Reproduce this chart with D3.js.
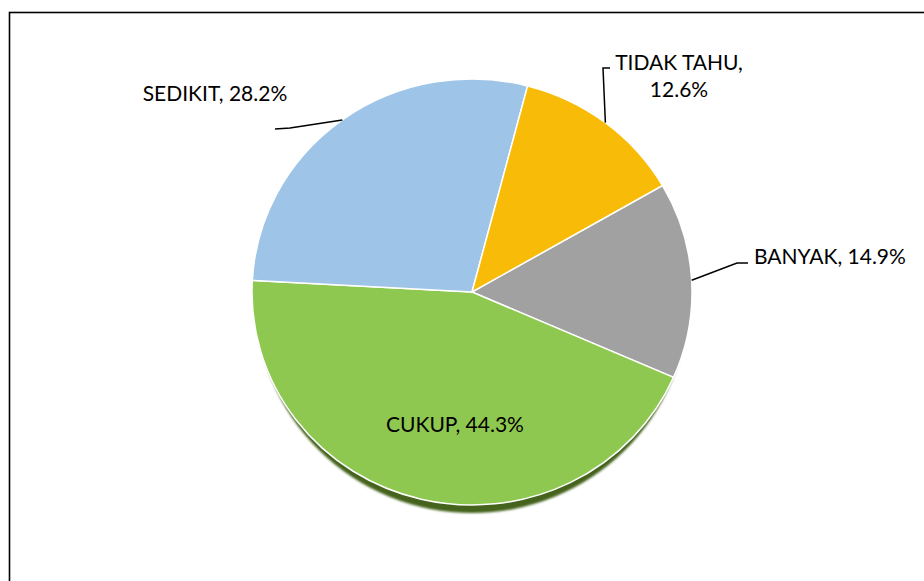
<!DOCTYPE html>
<html>
<head>
<meta charset="utf-8">
<script src="https://cdn.jsdelivr.net/npm/d3@7"></script>
<style>
  html, body { margin: 0; padding: 0; background: #fff; }
  svg text { font-family: Lato, "Open Sans", sans-serif; fill: #000; }
</style>
</head>
<body>
<div id="chart"></div>
<script>
// data
var categories = ['BANYAK', 'CUKUP', 'SEDIKIT', 'TIDAK TAHU'];
var values = [14.9, 44.3, 28.2, 12.6];
var colors = ['#9e9e9e', '#8cc44e', '#9bc1e3', '#f3b707'];

var width = 924, height = 581;
var cx = 472, cy = 292, rx = 220, ry = 213;

// label placement (leader end point + text anchor)
var labelLayout = {
  'BANYAK': { elbow: [737, 263], end: [748, 263], text: [754, 264], anchor: 'start', lines: ['BANYAK, 14.9%'] },
  'SEDIKIT': { elbow: [290, 128], end: [275, 129], text: [215, 101], anchor: 'middle', lines: ['SEDIKIT, 28.2%'] },
  'TIDAK TAHU': { elbow: [603, 68], end: [610, 68], text: [679, 70], anchor: 'middle', lines: ['TIDAK TAHU,', '12.6%'] },
  'CUKUP': { inside: true, text: [455, 432], anchor: 'middle', lines: ['CUKUP, 44.3%'] }
};

var svg = d3.select('#chart').append('svg')
  .attr('width', width)
  .attr('height', height);

var defs = svg.append('defs');
defs.append('filter').attr('id', 'blur')
  .attr('x', '-10%').attr('y', '-10%').attr('width', '120%').attr('height', '120%')
  .append('feGaussianBlur').attr('stdDeviation', 1.2);

colors.forEach(function (c, i) {
  var g = defs.append('linearGradient')
    .attr('id', 'grad' + i)
    .attr('gradientUnits', 'userSpaceOnUse')
    .attr('x1', cx - rx).attr('y1', 0)
    .attr('x2', cx + rx).attr('y2', 0);
  g.append('stop').attr('offset', '0%').attr('stop-color', d3.color(c).brighter(0.06));
  g.append('stop').attr('offset', '100%').attr('stop-color', d3.color(c).darker(0.06));
});

// frame
svg.append('rect')
  .attr('x', 9.5).attr('y', 12.5)
  .attr('width', 940).attr('height', 600)
  .attr('fill', 'none')
  .attr('stroke', '#000')
  .attr('stroke-width', 1.6);

var data = categories.map(function (c, i) { return { name: c, value: values[i], color: i }; });

var start = 60 * Math.PI / 180;
var pie = d3.pie().sort(null).value(function (d) { return d.value; })
  .startAngle(start).endAngle(start + 2 * Math.PI);
var arcs = pie(data);

var arc = d3.arc().innerRadius(0).outerRadius(rx);

// bottom edge shadow
svg.append('ellipse')
  .attr('cx', cx).attr('cy', cy + 8)
  .attr('rx', rx - 4).attr('ry', ry)
  .attr('fill', '#45631f')
  .attr('filter', 'url(#blur)');

var pieG = svg.append('g')
  .attr('transform', 'translate(' + cx + ',' + cy + ') scale(1,' + (ry / rx) + ')');

pieG.selectAll('path')
  .data(arcs)
  .enter().append('path')
  .attr('d', arc)
  .attr('fill', function (d) { return 'url(#grad' + d.data.color + ')'; })
  .attr('stroke', '#fff')
  .attr('stroke-width', 1.5)
  .attr('vector-effect', 'non-scaling-stroke');

function edgePoint(d) {
  var a = (d.startAngle + d.endAngle) / 2;
  return [cx + rx * Math.sin(a), cy - ry * Math.cos(a)];
}

// leader lines
var outside = arcs.filter(function (d) { return !labelLayout[d.data.name].inside; });
svg.selectAll('.leader')
  .data(outside)
  .enter().append('polyline')
  .attr('class', 'leader')
  .attr('fill', 'none')
  .attr('stroke', '#000')
  .attr('stroke-width', 1.5)
  .attr('points', function (d) {
    var L = labelLayout[d.data.name];
    return [edgePoint(d), L.elbow, L.end].map(function (p) { return p.join(','); }).join(' ');
  });

// labels
var labels = svg.selectAll('.label')
  .data(arcs)
  .enter().append('text')
  .attr('class', 'label')
  .attr('x', function (d) { return labelLayout[d.data.name].text[0]; })
  .attr('y', function (d) { return labelLayout[d.data.name].text[1]; })
  .attr('text-anchor', function (d) { return labelLayout[d.data.name].anchor; })
  .style('font-size', '21px');

labels.each(function (d) {
  var L = labelLayout[d.data.name];
  var t = d3.select(this);
  L.lines.forEach(function (line, i) {
    t.append('tspan')
      .attr('x', L.text[0])
      .attr('dy', i === 0 ? 0 : 27)
      .text(line);
  });
});
</script>
</body>
</html>
